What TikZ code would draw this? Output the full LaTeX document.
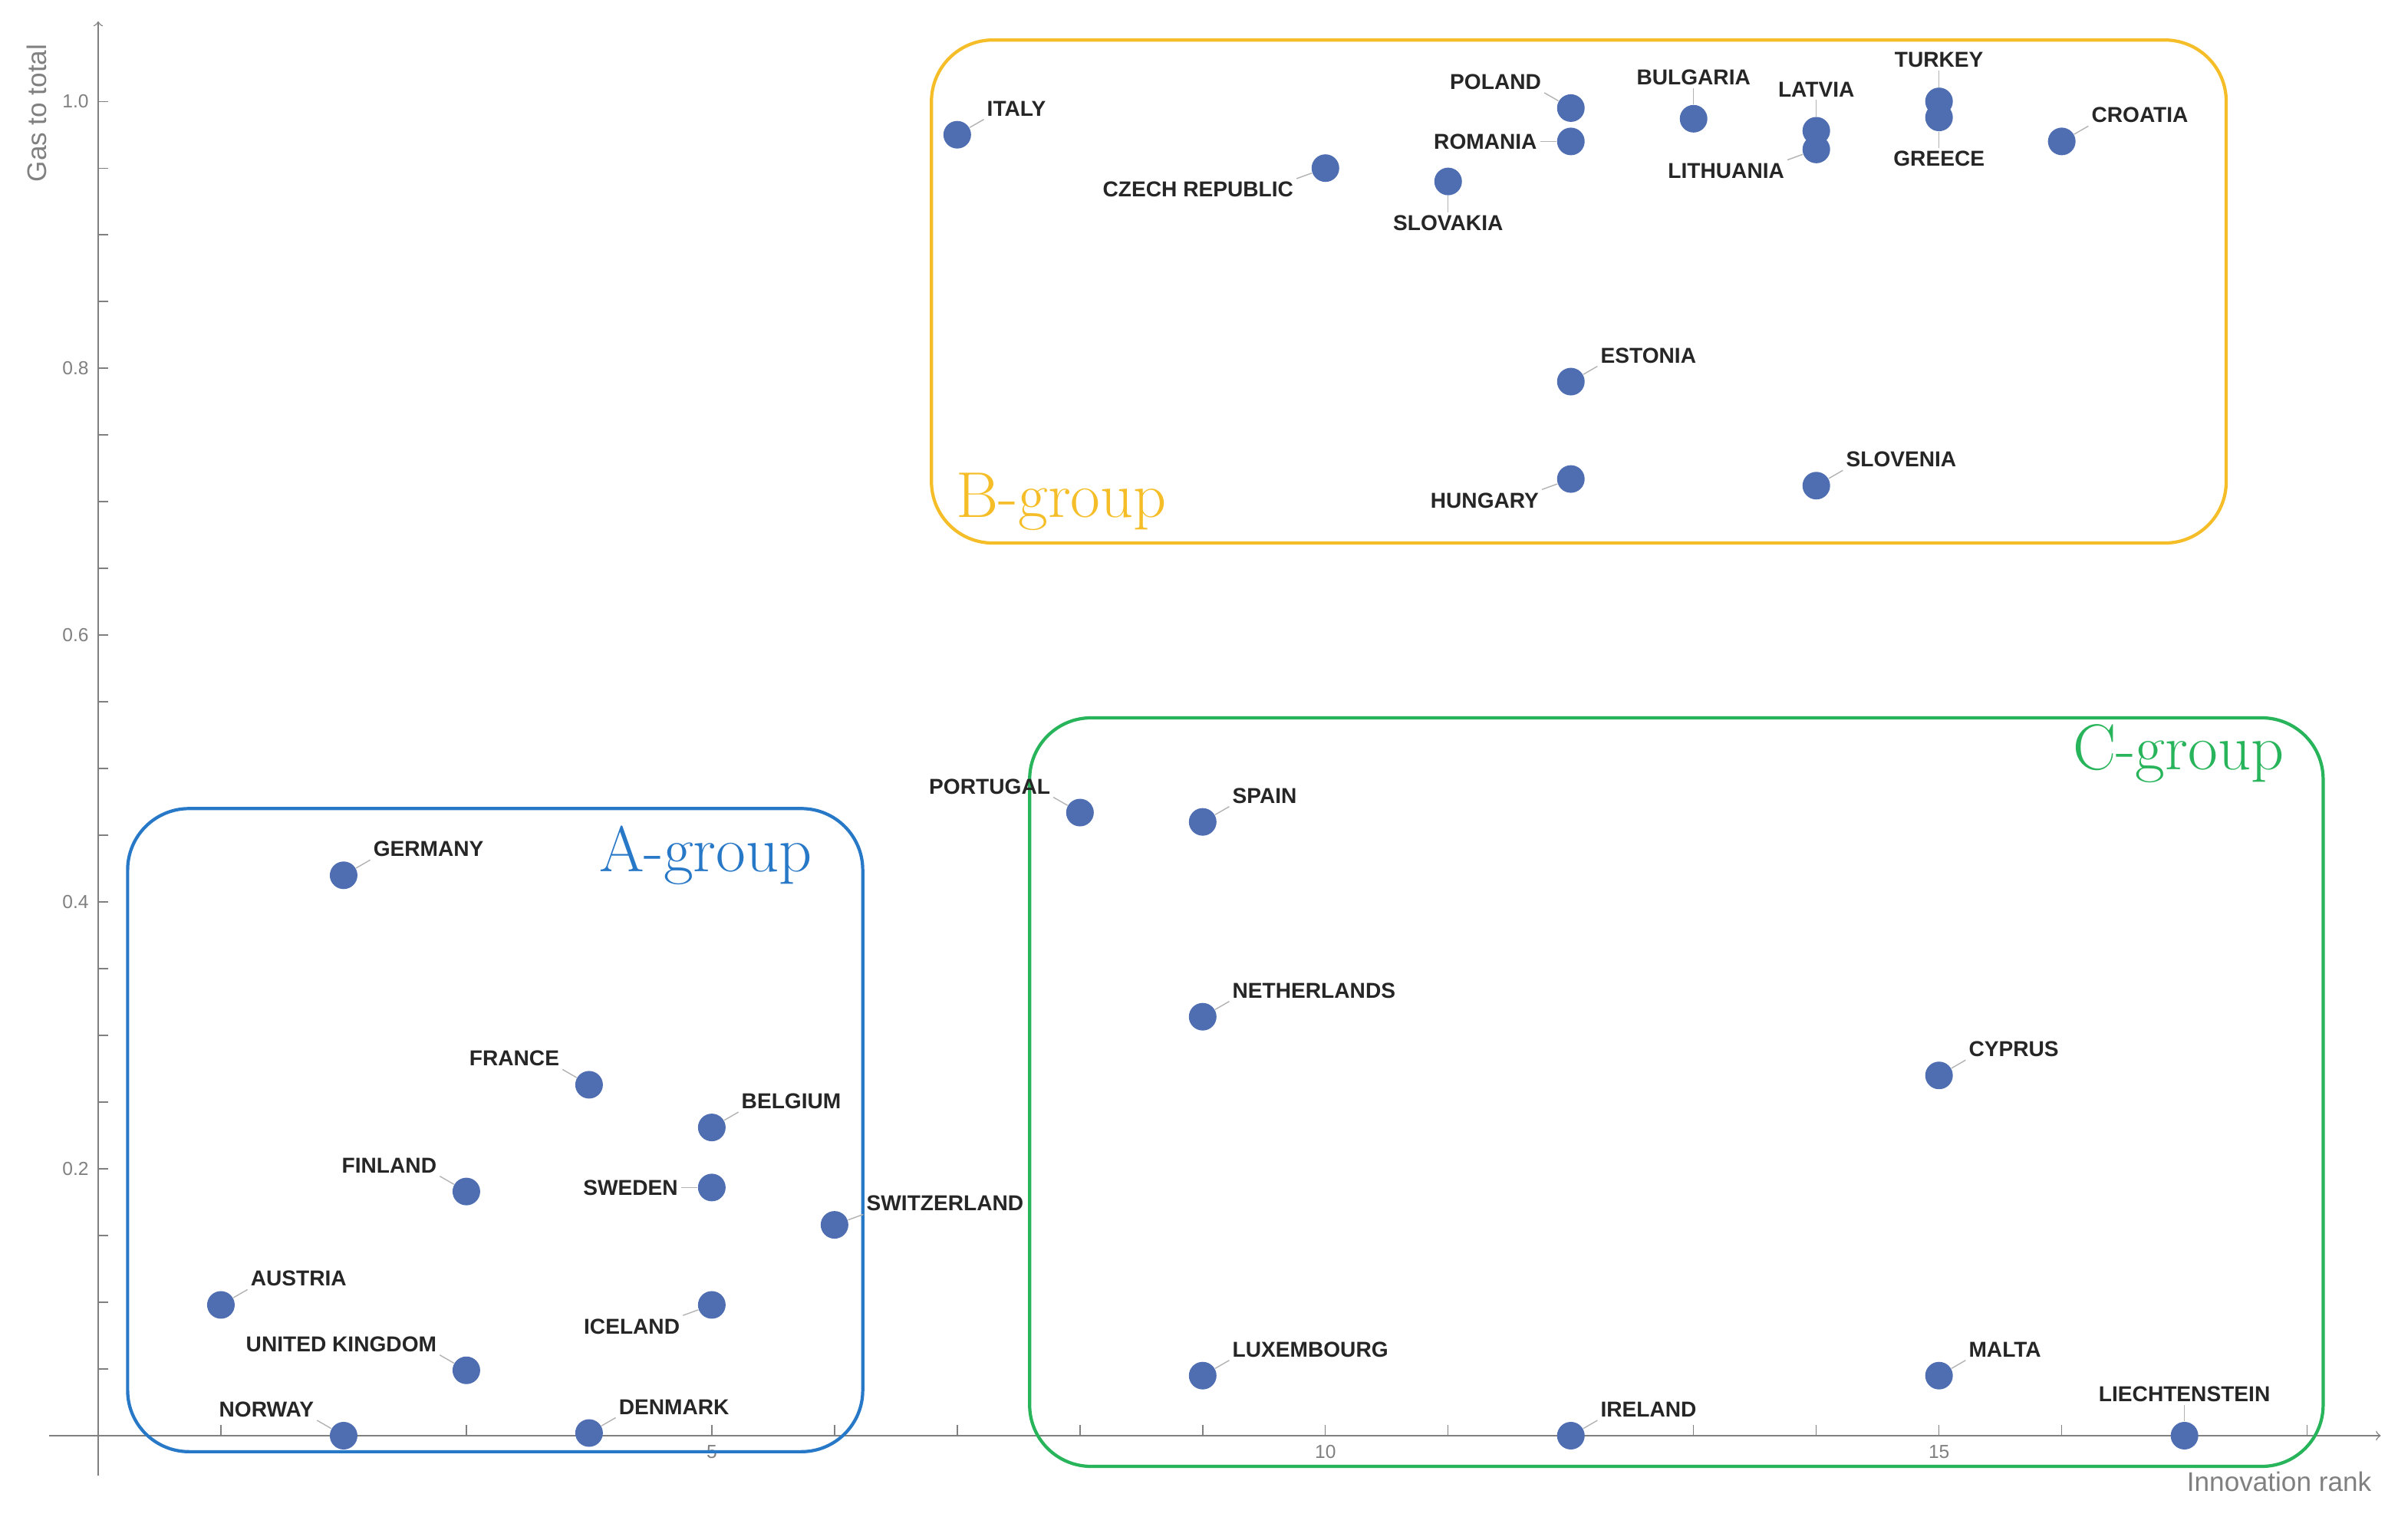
\documentclass[tikz,border=0pt]{standalone}
\usepackage{fontspec}
\newfontfamily\lblfont{Liberation Sans}
\usetikzlibrary{positioning}
\definecolor{dotblue}{RGB}{79,110,178}
\definecolor{grpA}{RGB}{40,120,200}
\definecolor{grpB}{RGB}{245,190,40}
\definecolor{grpC}{RGB}{40,180,90}
\tikzset{
  dot/.style={circle,fill=dotblue,inner sep=0pt,minimum size=0.36cm},
  lbl/.style={font=\lblfont\bfseries\footnotesize,inner sep=1pt,text=black!85},
  leader/.style={gray!60,thin},
  group/.style={rounded corners=0.8cm,line width=1.2pt},
  grplbl/.style={font=\fontsize{24}{28}\selectfont},
  tick/.style={gray,font=\lblfont\scriptsize}
}
\begin{document}
\begin{tikzpicture}[x=1.6cm,y=17.4cm]
    \useasboundingbox (-0.8,-0.078) rectangle (18.74,1.076);
    % axes
    \draw[gray,->] (-0.4,0) -- (18.6,0);
    \draw[gray,->] (0,-0.03) -- (0,1.06);
    \foreach \t in {1,...,18} \draw[gray] (\t,0) -- (\t,0.008);
    \foreach \t in {1,...,20} \draw[gray] (0,\t/20) -- (0.08,\t/20);
    \foreach \t in {5,10,15} \node[tick,below] at (\t,0) {\t};
    \foreach \t in {0.2,0.4,0.6,0.8,1.0} \node[tick,left] at (0,\t) {\t};
    \node[gray,font=\lblfont\normalsize,rotate=90,anchor=east] (ylab) at (-0.5,1.05) {Gas to total};
    \node[gray,font=\lblfont\normalsize,anchor=north east] (xlab) at (18.6,-0.02) {Innovation rank};

    % groups
    \draw[group,grpB] (6.79,0.669) rectangle (17.34,1.046);
    \node[grplbl,text=grpB] (bg) at (7.85,0.70) {B-group};
    \draw[group,grpA] (0.24,-0.012) rectangle (6.23,0.470);
    \node[grplbl,text=grpA] (ag) at (4.95,0.435) {A-group};
    \draw[group,grpC] (7.59,-0.023) rectangle (18.13,0.538);
    \node[grplbl,text=grpC] (cg) at (16.95,0.511) {C-group};

    % countries
    \foreach \n/\x/\y/\a/\b/\t in {
        it/7/0.975/30/south west/ITALY, cz/10/0.95/200/north east/CZECH REPUBLIC,
        sk/11/0.94/270/north/SLOVAKIA, pl/12/0.995/150/south east/POLAND,
        ro/12/0.97/180/east/ROMANIA, bg/13/0.987/90/south/BULGARIA,
        lv/14/0.978/90/south/LATVIA, lt/14/0.964/200/north east/LITHUANIA,
        tr/15/1.0/90/south/TURKEY, gr/15/0.988/270/north/GREECE,
        hr/16/0.97/30/south west/CROATIA, ee/12/0.79/30/south west/ESTONIA,
        hu/12/0.717/200/north east/HUNGARY, si/14/0.712/30/south west/SLOVENIA,
        de/2/0.42/30/south west/GERMANY, fr/4/0.263/150/south east/FRANCE,
        be/5/0.231/30/south west/BELGIUM, fi/3/0.183/150/south east/FINLAND,
        se/5/0.186/180/east/SWEDEN, ch/6/0.158/20/south west/SWITZERLAND,
        at/1/0.098/30/south west/AUSTRIA, is/5/0.098/200/north east/ICELAND,
        uk/3/0.049/150/south east/UNITED KINGDOM, no/2/0/150/south east/NORWAY,
        dk/4/0.002/30/south west/DENMARK, pt/8/0.467/150/south east/PORTUGAL,
        es/9/0.46/30/south west/SPAIN, nl/9/0.314/30/south west/NETHERLANDS,
        cy/15/0.27/30/south west/CYPRUS, lu/9/0.045/30/south west/LUXEMBOURG,
        mt/15/0.045/30/south west/MALTA, ie/12/0/30/south west/IRELAND,
        li/17/0/90/south/LIECHTENSTEIN}
    {
        \node[dot] (\n) at (\x,\y) {};
        \node[lbl,anchor=\b] (\n-l) at ([shift={(\a:0.4cm)}]\n) {\t};
        \draw[leader] (\n.\a) -- (\n-l.\b);
    }
\end{tikzpicture}
\end{document}
